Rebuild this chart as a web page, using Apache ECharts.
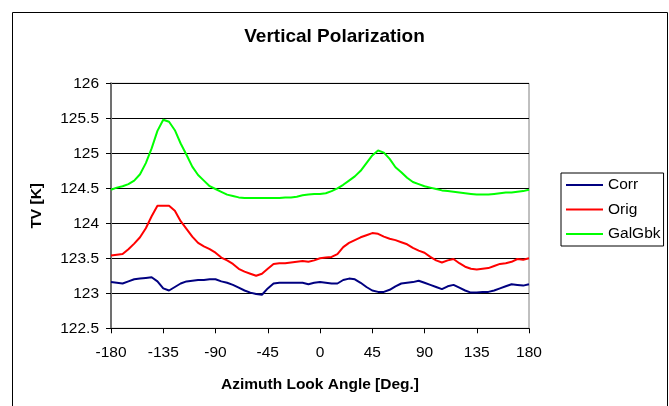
<!DOCTYPE html>
<html>
<head>
<meta charset="utf-8">
<script src="https://cdn.jsdelivr.net/npm/echarts@6/dist/echarts.min.js"></script>
<style>html,body{margin:0;padding:0;background:#fff}#c{width:669px;height:406px}</style>
</head>
<body>
<div id="c"></div>
<script>
const angles = [-180,-175,-170,-165,-160,-155,-150,-145,-140,-135,-130,-125,-120,-115,-110,-105,-100,-95,-90,
 -85,-80,-75,-70,-65,-60,-55,-50,-45,-40,-35,-30,-25,-20,-15,-10,-5,0,
 5,10,15,20,25,30,35,40,45,50,55,60,65,70,75,80,85,90,
 95,100,105,110,115,120,125,130,135,140,145,150,155,160,165,170,175,180];
const corr = [123.16,123.15,123.14,123.17,123.20,123.21,123.22,123.23,123.17,123.07,123.04,123.09,123.14,123.17,123.18,123.19,123.19,123.20,123.20,
 123.17,123.15,123.12,123.08,123.04,123.01,122.99,122.98,123.07,123.14,123.15,123.15,123.15,123.15,123.15,123.13,123.15,123.16,
 123.15,123.14,123.14,123.19,123.21,123.20,123.15,123.09,123.04,123.02,123.02,123.05,123.10,123.14,123.15,123.16,123.18,123.15,
 123.12,123.09,123.06,123.10,123.12,123.08,123.04,123.01,123.01,123.02,123.02,123.04,123.07,123.10,123.13,123.12,123.11,123.13];
const orig = [123.54,123.55,123.56,123.63,123.71,123.80,123.93,124.10,124.25,124.25,124.25,124.18,124.03,123.92,123.81,123.72,123.67,123.63,123.58,
 123.51,123.47,123.42,123.35,123.31,123.28,123.25,123.28,123.35,123.42,123.43,123.43,123.44,123.45,123.46,123.45,123.47,123.50,
 123.51,123.52,123.56,123.66,123.72,123.76,123.80,123.83,123.86,123.85,123.81,123.78,123.76,123.73,123.70,123.65,123.61,123.58,
 123.52,123.47,123.44,123.47,123.49,123.43,123.38,123.35,123.34,123.35,123.36,123.39,123.42,123.43,123.45,123.49,123.48,123.50];
const galGbk = [124.48,124.51,124.53,124.56,124.61,124.70,124.86,125.07,125.32,125.48,125.45,125.33,125.14,124.98,124.81,124.69,124.61,124.53,124.49,
 124.45,124.41,124.39,124.37,124.36,124.36,124.36,124.36,124.36,124.36,124.36,124.37,124.37,124.38,124.40,124.41,124.42,124.42,
 124.43,124.46,124.50,124.55,124.61,124.67,124.75,124.86,124.97,125.04,125.01,124.92,124.80,124.73,124.65,124.59,124.56,124.53,
 124.51,124.49,124.47,124.46,124.45,124.44,124.43,124.42,124.41,124.41,124.41,124.42,124.43,124.44,124.44,124.45,124.46,124.48];
const seriesNames = ['Corr','Orig','GalGbk'];
const seriesColors = ['#000080','#FF0000','#00FF00'];
const titleText = 'Vertical Polarization';
const xTitle = 'Azimuth Look Angle [Deg.]';
const yTitle = 'TV [K]';

const FONT = 'Liberation Sans, Arial, sans-serif';
const pairs = arr => angles.map((a, i) => [a, arr[i]]);
const allData = [corr, orig, galGbk];

const chart = echarts.init(document.getElementById('c'), null, {renderer: 'canvas'});
chart.setOption({
  animation: false,
  backgroundColor: '#fff',
  title: {
    text: titleText, left: 'center', top: 22,
    textStyle: {fontFamily: FONT, fontSize: 19, fontWeight: 'bold', color: '#000'}
  },
  graphic: [{
    type: 'rect', shape: {x: 12.5, y: 12.5, width: 655, height: 420},
    style: {fill: 'none', stroke: '#000', lineWidth: 1}, silent: true, z: -1
  }],
  legend: {
    orient: 'vertical', left: 561, top: 173,
    padding: [4, 3, 4, 5], itemGap: 8.5,
    itemWidth: 37, itemHeight: 2, icon: 'rect',
    borderColor: '#000', borderWidth: 1,
    textStyle: {fontFamily: FONT, fontSize: 15.5, color: '#000', lineHeight: 16},
    data: seriesNames
  },
  grid: {left: 111, top: 83.3, right: 140, bottom: 77.7, show: true, borderColor: '#808080', borderWidth: 1},
  xAxis: {
    type: 'value', min: -180, max: 180, interval: 45,
    name: xTitle, nameLocation: 'middle', nameGap: 48,
    nameTextStyle: {fontFamily: FONT, fontSize: 15.5, fontWeight: 'bold', color: '#000'},
    axisLine: {onZero: false, lineStyle: {color: '#000', width: 1}},
    axisTick: {inside: false, length: 5, lineStyle: {color: '#000'}},
    axisLabel: {fontFamily: FONT, fontSize: 15.5, color: '#000', margin: 16},
    splitLine: {show: false}
  },
  yAxis: {
    type: 'value', min: 122.5, max: 126, interval: 0.5,
    name: yTitle, nameLocation: 'middle', nameGap: 66, nameRotate: 90,
    nameTextStyle: {fontFamily: FONT, fontSize: 15.5, fontWeight: 'bold', color: '#000'},
    axisLine: {show: true, onZero: false, lineStyle: {color: '#707070', width: 2}},
    axisTick: {show: true, inside: false, length: 5, lineStyle: {color: '#000'}},
    axisLabel: {fontFamily: FONT, fontSize: 15.5, color: '#000', margin: 12},
    splitLine: {show: true, lineStyle: {color: '#000', width: 1}}
  },
  series: seriesNames.map((n, i) => ({
    name: n, type: 'line', data: pairs(allData[i]),
    showSymbol: false, symbol: 'none',
    lineStyle: {color: seriesColors[i], width: 2},
    itemStyle: {color: seriesColors[i]}
  }))
});
</script>
</body>
</html>
